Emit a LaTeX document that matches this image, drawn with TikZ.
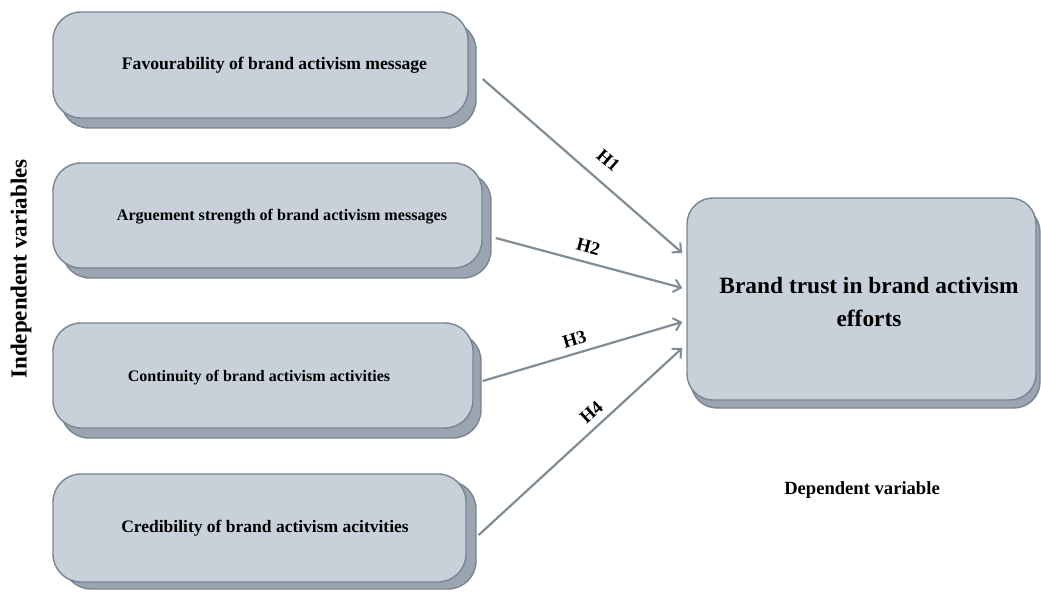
\documentclass[tikz,border=0pt]{standalone}
\usepackage{fontspec}
\setmainfont{Liberation Serif}
\usetikzlibrary{shadows,arrows.meta,calc}
\definecolor{boxfill}{RGB}{200,208,218}
\definecolor{shadowfill}{RGB}{154,165,177}
\definecolor{boxdraw}{RGB}{120,133,146}
\definecolor{arrowc}{RGB}{128,140,150}
\tikzset{
  ivbox/.style={draw=boxdraw, line width=1.4pt, fill=boxfill, rounded corners=28pt, inner sep=0pt, minimum width=#1},
  shad/.style 2 args={copy shadow={shadow xshift=#1, shadow yshift=#2, fill=shadowfill, draw=boxdraw, line width=1.4pt}},
  boxtext/.style={font=\bfseries\fontsize{#1}{20}\selectfont, inner sep=0pt},
  hlab/.style={font=\bfseries\fontsize{18.5}{20}\selectfont, inner sep=0pt},
  arr/.style={draw=arrowc, line width=2.2pt, -{Straight Barb[length=7pt,width=13pt,line width=2pt]}}
}
\begin{document}
\begin{tikzpicture}[x=1pt,y=-1pt]
\useasboundingbox (0,0) rectangle (1041,593);
% independent boxes
\node[ivbox=415pt, minimum height=106pt, shad={8pt}{-10pt}] (b1) at (260.5,65) {};
\node[ivbox=429pt, minimum height=105pt, shad={9pt}{-10pt}] (b2) at (267.5,215.5) {};
\node[ivbox=420pt, minimum height=105pt, shad={8pt}{-10pt}] (b3) at (263,375.5) {};
\node[ivbox=413pt, minimum height=108pt, shad={10pt}{-7pt}] (b4) at (259.5,528) {};
% dependent box
\node[ivbox=349pt, minimum height=202pt, rounded corners=26pt, shad={4pt}{-8pt}] (big) at (861.5,299) {};
% texts
\node[boxtext=17.6] (t1) at (274.5,65) {Favourability of brand activism message};
\node[boxtext=16.1] (t2) at (282,217) {Arguement strength of brand activism messages};
\node[boxtext=16] (t3) at (259,378) {Continuity of brand activism activities};
\node[boxtext=17.5] (t4) at (265,528) {Credibility of brand activism acitvities};
\node[font=\bfseries\fontsize{23.4}{33}\selectfont, align=center, inner sep=0pt] (tb) at (869,302) {Brand trust in brand activism\\efforts};
\node[font=\bfseries\fontsize{23}{24}\selectfont, rotate=90, inner sep=0pt] (iv) at (21,269) {Independent variables};
\node[font=\bfseries\fontsize{18.6}{20}\selectfont, inner sep=0pt] (dv) at (862,490) {Dependent variable};
% arrows
\draw[arr] ([shift={(14,14)}]b1.east) -- node[hlab, pos=0.56, sloped, above=14pt] {H1} ([shift={(-4,-46)}]big.west);
\draw[arr] ([shift={(13,22.5)}]b2.east) -- node[hlab, pos=0.475, sloped, above=8pt] {H2} ([shift={(-4,-11)}]big.west);
\draw[arr] ([shift={(9,5.5)}]b3.east) -- node[hlab, pos=0.48, sloped, above=7pt] {H3} ([shift={(-4,23)}]big.west);
\draw[arr] ([shift={(12,7)}]b4.east) -- node[hlab, pos=0.6, sloped, above=7pt] {H4} ([shift={(-4,49)}]big.west);
\end{tikzpicture}
\end{document}
